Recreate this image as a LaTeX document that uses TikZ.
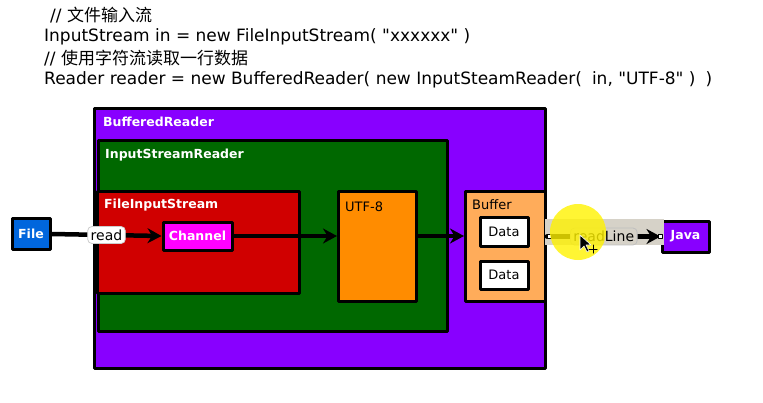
\documentclass[tikz,border=0pt]{standalone}
\usepackage{fontspec}
\setmainfont{DejaVu Sans}
\newfontfamily\cjk{Noto Sans CJK SC}
\usetikzlibrary{arrows.meta}

\begin{document}
\begin{tikzpicture}[x = 1pt,
                    y = -1pt,
                    line cap = round,
                    line join = round]


  % CANVAS
  \useasboundingbox (0,0) rectangle (763,402);


  % COLORS
  \definecolor{brcolor}{RGB}{136,0,255}
  \definecolor{isrcolor}{RGB}{0,104,0}
  \definecolor{fiscolor}{RGB}{208,0,0}
  \definecolor{chancolor}{RGB}{255,0,255}
  \definecolor{filecolor}{RGB}{0,102,221}
  \definecolor{utfcolor}{RGB}{255,140,0}
  \definecolor{bufcolor}{RGB}{255,172,90}
  \definecolor{selcolor}{RGB}{214,210,200}


  % STYLES
  \tikzstyle{codestyle} = [anchor=west, inner sep=0pt, font=\fontsize{17}{20}\selectfont]
  \tikzstyle{boxstyle} = [draw=black, line width=3pt, anchor=north west, inner sep=0pt]
  \tikzstyle{whitetitle} = [anchor=west, inner sep=0pt, text=white, font=\fontsize{12.5}{15}\selectfont\bfseries]
  \tikzstyle{blacktitle} = [anchor=west, inner sep=0pt, text=black, font=\fontsize{13}{15}\selectfont]
  \tikzstyle{smallbox} = [draw=black, line width=3pt, inner sep=0pt, font=\fontsize{12.5}{15}\selectfont\bfseries]
  \tikzstyle{linkstyle} = [draw=black, line width=4.5pt, -{Stealth[length=14pt,width=15pt]}]
  \tikzstyle{tagstyle} = [rounded corners=4pt, inner sep=3pt, font=\fontsize{14}{16}\selectfont]


  % CODE
  \node[codestyle] (c1) at (50,15) {// {\cjk 文件输入流}};
  \node[codestyle] (c2) at (44,37) {InputStream in = new FileInputStream( \textquotedbl xxxxxx\textquotedbl\ )};
  \node[codestyle] (c3) at (44,58) {// {\cjk 使用字符流读取一行数据}};
  \node[codestyle] (c4) at (44,80) {Reader reader = new BufferedReader( new InputSteamReader(\hspace{10pt}in, \textquotedbl UTF-8\textquotedbl\ )\hspace{10pt})};


  % BOXES
  \node[boxstyle, fill=brcolor, minimum width=451, minimum height=260] (br) at (93,107) {};
  \node[boxstyle, fill=isrcolor, minimum width=349, minimum height=191] (isr) at (97,139) {};
  \node[boxstyle, fill=fiscolor, minimum width=202, minimum height=102] (fis) at (96,190) {};
  \node[boxstyle, fill=utfcolor, minimum width=78, minimum height=110] (utf) at (337,190) {};
  \node[boxstyle, fill=bufcolor, minimum width=80, minimum height=110] (buf) at (464,190) {};


  % TITLES
  \node[whitetitle] (br_t) at (103,122) {BufferedReader};
  \node[whitetitle] (isr_t) at (105,155) {InputStreamReader};
  \node[whitetitle] (fis_t) at (104,205) {FileInputStream};
  \node[blacktitle] (utf_t) at (345,207) {UTF-8};
  \node[blacktitle] (buf_t) at (472,205) {Buffer};


  % SMALL NODES
  \node[smallbox, fill=filecolor, text=white, minimum width=38, minimum height=31] (file) at (31,234) {File};
  \node[smallbox, fill=chancolor, text=white, minimum width=69, minimum height=28] (chan) at (197.5,236) {Channel};
  \node[smallbox, fill=white, font=\fontsize{13}{15}\selectfont, minimum width=48, minimum height=29] (data1) at (504,231.5) {Data};
  \node[smallbox, fill=white, font=\fontsize{13}{15}\selectfont, minimum width=48, minimum height=28] (data2) at (504,275) {Data};
  \node[smallbox, fill=brcolor, text=white, minimum width=47, minimum height=31] (java) at (685.5,236.5) {Java};


  % SELECTION
  \fill[selcolor] (545,219) rectangle (664,245);


  % LINKS
  \draw[linkstyle] (file.east) -- node[tagstyle, fill=white, draw=black!20, line width=0.8pt] (read) {read} (chan.west);
  \draw[linkstyle] (chan.east) -- (chan.east -| utf.west);
  \draw[linkstyle] (utf.east |- chan.east) -- (buf.west |- chan.east);
  \draw[linkstyle] (buf.east |- java.west) -- node[tagstyle, fill=selcolor, draw=black!25, line width=0.8pt] (rl) {readLine} (java.west);
  \draw[fill=white, line width=0.6pt] (547,234.5) rectangle ++(4,4);
  \draw[fill=white, line width=0.6pt] (658,234.5) rectangle ++(4,4);


  % CURSOR
  \fill[yellow, opacity=0.8] (578,232) circle (28);
  \draw[fill=black, draw=white, line width=0.6pt] (580,235) -- (580,250) -- (584,246) -- (587,252) -- (589,251) -- (586,245) -- (591,245) -- cycle;
  \draw[black, line width=1pt] (589,249) -- (597,249) (593,245) -- (593,253);

\end{tikzpicture}
\end{document}
